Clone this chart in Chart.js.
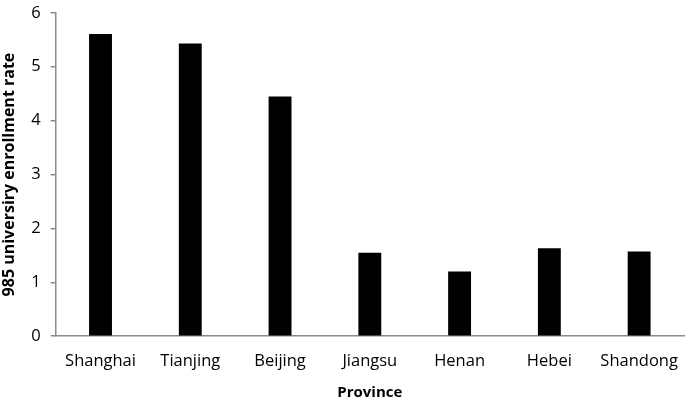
<!DOCTYPE html>
<html>
<head>
<meta charset="utf-8">
<script src="https://cdn.jsdelivr.net/npm/chart.js@4"></script>
<style>
html,body{margin:0;padding:0;background:#fff;overflow:hidden;}
#wrap{width:685px;height:405px;position:relative;overflow:hidden;}
#c{position:absolute;left:0;top:-7px;}
</style>
</head>
<body>
<div id="wrap"><canvas id="c" width="685" height="409"></canvas></div>
<script>
const categories = ["Shanghai","Tianjing","Beijing","Jiangsu","Henan","Hebei","Shandong"];
const enrollmentRate = [5.61, 5.43, 4.45, 1.55, 1.20, 1.63, 1.57];
const yTicks = [0,1,2,3,4,5,6];

const FONT = "'Open Sans', 'Liberation Sans', sans-serif";
new Chart(document.getElementById('c'), {
  type: 'bar',
  data: {
    labels: categories,
    datasets: [{
      data: enrollmentRate,
      backgroundColor: '#000',
      borderWidth: 0,
      categoryPercentage: 1,
      barPercentage: 0.255
    }]
  },
  options: {
    responsive: false,
    animation: false,
    layout: {padding: {top: 0, right: 1, left: 0, bottom: 0}},
    plugins: {legend: {display: false}, tooltip: {enabled: false}},
    scales: {
      x: {
        grid: {display: false},
        border: {color: '#8c8c8c', width: 1.5},
        ticks: {color: '#000', font: {family: FONT, size: 16.5}, padding: 7, maxRotation: 0},
        title: {display: true, text: 'Province', color: '#000', font: {family: FONT, size: 15, weight: 'bold'}, padding: {top: 6, bottom: 0}}
      },
      y: {
        min: 0, max: 6,
        afterBuildTicks: (s) => { s.ticks = yTicks.map(v => ({value: v})); },
        grid: {drawOnChartArea: false, drawTicks: true, tickLength: 5, color: '#8c8c8c', lineWidth: 1.5},
        border: {color: '#8c8c8c', width: 1.5},
        ticks: {color: '#000', font: {family: FONT, size: 16.5}, padding: 10},
        title: {display: true, text: '985 universiry enrollment rate', color: '#000', font: {family: FONT, size: 16, weight: 'bold'}, padding: {top: 0, bottom: 2}}
      }
    }
  }
});
</script>
</body>
</html>
